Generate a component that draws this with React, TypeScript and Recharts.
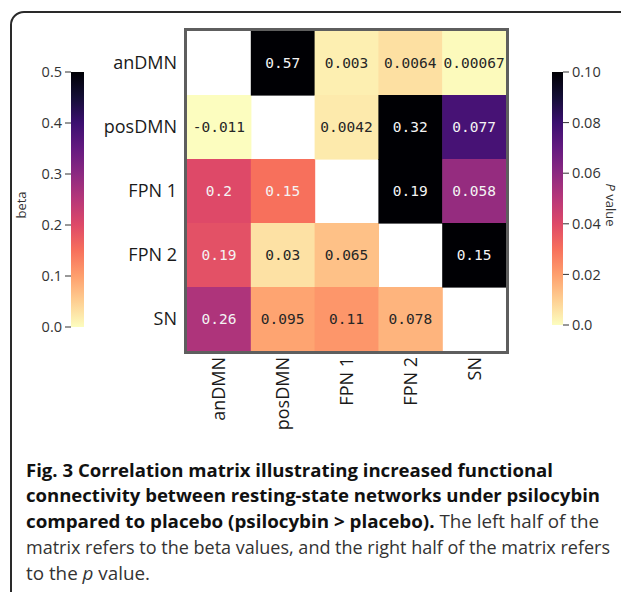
import { Bar, BarChart, Scatter, ScatterChart, XAxis, YAxis } from "recharts";

// Network names, used for both axes of the matrix.
const NETWORKS = ["anDMN", "posDMN", "FPN 1", "FPN 2", "SN"];
// Lower triangle: beta values, row r holds columns 0..r-1.
const BETA_ROWS: number[][] = [
  [],
  [-0.011],
  [0.2, 0.15],
  [0.19, 0.03, 0.065],
  [0.26, 0.095, 0.11, 0.078],
];
// Upper triangle: p values, row r holds columns r+1..4.
const P_ROWS: number[][] = [
  [0.57, 0.003, 0.0064, 0.00067],
  [0.0042, 0.32, 0.077],
  [0.19, 0.058],
  [0.15],
  [],
];
const BETA_TICKS = [0, 0.1, 0.2, 0.3, 0.4, 0.5];
const P_TICKS = [0, 0.02, 0.04, 0.06, 0.08, 0.1];
const INDEX_TICKS = [0, 1, 2, 3, 4];

const BETA_MAX = BETA_TICKS[BETA_TICKS.length - 1];
const P_MAX = P_TICKS[P_TICKS.length - 1];

// matplotlib magma, sampled every 0.1
const MAGMA = [
  "#000004", "#140e36", "#3b0f70", "#641a80", "#8c2981", "#b73779",
  "#de4968", "#f7705c", "#fe9f6d", "#fecf92", "#fcfdbf",
];

const FONT = "'Open Sans', 'DejaVu Sans', sans-serif";
const PLOT = { left: 187, top: 31, right: 506, bottom: 351 };
const CELL_W = (PLOT.right - PLOT.left) / NETWORKS.length;
const CELL_H = (PLOT.bottom - PLOT.top) / NETWORKS.length;

type CellDatum = { x: number; y: number; value: number; kind: "beta" | "p" };

const CELLS: CellDatum[] = [];
BETA_ROWS.forEach((row, r) => row.forEach((v, c) => CELLS.push({ x: c, y: r, value: v, kind: "beta" })));
P_ROWS.forEach((row, r) => row.forEach((v, i) => CELLS.push({ x: r + 1 + i, y: r, value: v, kind: "p" })));

function hexToRgb(hex: string) {
  const n = parseInt(hex.slice(1), 16);
  return [(n >> 16) & 255, (n >> 8) & 255, n & 255];
}

// reversed magma (magma_r), t in 0..1
function magmaR(t: number): string {
  const s = 1 - Math.min(1, Math.max(0, t));
  const pos = s * (MAGMA.length - 1);
  const i = Math.min(MAGMA.length - 2, Math.floor(pos));
  const f = pos - i;
  const a = hexToRgb(MAGMA[i]);
  const b = hexToRgb(MAGMA[i + 1]);
  const c = a.map((v, k) => Math.round(v + (b[k] - v) * f));
  return `rgb(${c[0]},${c[1]},${c[2]})`;
}

function textColorFor(rgb: string): string {
  const [r, g, b] = rgb.match(/\d+/g)!.map((v) => {
    const c = Number(v) / 255;
    return c <= 0.03928 ? c / 12.92 : Math.pow((c + 0.055) / 1.055, 2.4);
  });
  const lum = 0.2126 * r + 0.7152 * g + 0.0722 * b;
  return lum > 0.408 ? "#262626" : "#f4f4f4";
}

function HeatCell(props: any) {
  const { cx, cy } = props;
  const d: CellDatum = props.payload ?? props;
  const fill = magmaR(d.kind === "beta" ? d.value / BETA_MAX : d.value / P_MAX);
  return (
    <g>
      <rect x={cx - CELL_W / 2} y={cy - CELL_H / 2} width={CELL_W + 0.6} height={CELL_H + 0.6} fill={fill} />
      <text
        x={cx}
        y={cy}
        dy="0.36em"
        textAnchor="middle"
        fontFamily="'DejaVu Sans Mono', monospace"
        fontSize={14.5}
        fill={textColorFor(fill)}
      >
        {String(d.value)}
      </text>
    </g>
  );
}

function RowTick({ x, y, payload }: any) {
  return (
    <text x={x} y={y} dy="0.35em" textAnchor="end" fontFamily={FONT} fontSize={18} fill="#1a1a1a">
      {NETWORKS[payload.value]}
    </text>
  );
}

function ColTick({ x, y, payload }: any) {
  return (
    <text
      x={x}
      y={y}
      dy="0.36em"
      transform={`rotate(-90, ${x}, ${y})`}
      textAnchor="end"
      fontFamily={FONT}
      fontSize={18}
      fill="#1a1a1a"
    >
      {NETWORKS[payload.value]}
    </text>
  );
}

function Colorbar({ id, max, ticks, side, format }: { id: string; max: number; ticks: number[]; side: "left" | "right"; format: (v: number) => string }) {
  const data = [{ name: id, v: max }];
  return (
    <BarChart
      width={side === "left" ? 100 : 81}
      height={400}
      data={data}
      barCategoryGap={0}
      margin={side === "left" ? { top: 72, right: 16, bottom: 73, left: 0 } : { top: 72, right: 0, bottom: 75, left: 12 }}
    >
      <defs>
        <linearGradient id={id} x1="0" y1="0" x2="0" y2="1">
          {MAGMA.map((c, i) => (
            <stop key={i} offset={i / (MAGMA.length - 1)} stopColor={c} />
          ))}
        </linearGradient>
      </defs>
      <XAxis dataKey="name" hide />
      <YAxis
        orientation={side}
        width={side === "left" ? 71 : 58}
        type="number"
        domain={[0, max]}
        ticks={ticks}
        tickFormatter={format}
        axisLine={false}
        tickSize={6}
        tickMargin={3}
        tickLine={{ stroke: "#333" }}
        tick={{ fontFamily: FONT, fontSize: 14.5, fill: "#333" }}
        interval={0}
      />
      <Bar dataKey="v" fill={`url(#${id})`} isAnimationActive={false} />
    </BarChart>
  );
}

export default function App() {
  return (
    <div style={{ position: "absolute", left: 0, top: 0, width: 621, height: 592, overflow: "hidden", background: "#fff" }}>
      <div
        style={{
          position: "absolute",
          left: 10,
          top: 11,
          width: 700,
          height: 700,
          border: "2px solid #2a2a2a",
          borderRadius: 14,
        }}
      />
      <div style={{ position: "absolute", left: 0, top: 0 }}>
        <Colorbar id="betaGrad" max={BETA_MAX} ticks={BETA_TICKS} side="left" format={(v) => v.toFixed(1)} />
      </div>
      <div style={{ position: "absolute", left: 540, top: 0 }}>
        <Colorbar id="pGrad" max={P_MAX} ticks={P_TICKS} side="right" format={(v) => (v === 0 ? "0.0" : v.toFixed(2))} />
      </div>
      <div style={{ position: "absolute", left: 0, top: 0 }}>
        <ScatterChart width={621} height={440} margin={{ top: PLOT.top, right: 621 - PLOT.right, bottom: 9, left: PLOT.left - 60 }}>
          <XAxis
            type="number"
            dataKey="x"
            domain={[-0.5, 4.5]}
            ticks={INDEX_TICKS}
            interval={0}
            height={80}
            axisLine={false}
            tickLine={false}
            tickSize={0}
            tickMargin={6}
            tick={<ColTick />}
          />
          <YAxis
            type="number"
            dataKey="y"
            domain={[-0.5, 4.5]}
            reversed
            ticks={INDEX_TICKS}
            interval={0}
            width={60}
            axisLine={false}
            tickLine={false}
            tickSize={0}
            tickMargin={10}
            tick={<RowTick />}
          />
          <Scatter data={CELLS} shape={(p: any) => <HeatCell {...p} />} isAnimationActive={false} />
        </ScatterChart>
      </div>
      <div
        style={{
          position: "absolute",
          left: PLOT.left - 3,
          top: PLOT.top - 3,
          width: PLOT.right - PLOT.left,
          height: PLOT.bottom - PLOT.top,
          border: "3px solid #5e5e5e",
          pointerEvents: "none",
        }}
      />
      <svg width={621} height={592} style={{ position: "absolute", left: 0, top: 0, pointerEvents: "none" }}>
        <text x={26} y={205} transform="rotate(-90, 26, 205)" textAnchor="middle" fontFamily={FONT} fontSize={13} fill="#333">
          beta
        </text>
        <text x={606} y={205} transform="rotate(90, 606, 205)" textAnchor="middle" fontFamily={FONT} fontSize={13} fill="#333">
          <tspan fontStyle="italic">P</tspan> value
        </text>
        <g fontFamily={FONT} fontSize={18.5}>
          <text x={26} y={477} fontWeight={700} fill="#111" textLength={527} lengthAdjust="spacingAndGlyphs">
            Fig. 3 Correlation matrix illustrating increased functional
          </text>
          <text x={26} y={502} fontWeight={700} fill="#111" textLength={574} lengthAdjust="spacingAndGlyphs">
            connectivity between resting-state networks under psilocybin
          </text>
          <text x={26} y={528} fill="#333" textLength={573} lengthAdjust="spacingAndGlyphs">
            <tspan fontWeight={700} fill="#111">compared to placebo (psilocybin {">"} placebo).</tspan> The left half of the
          </text>
          <text x={26} y={554} fill="#333" textLength={584} lengthAdjust="spacingAndGlyphs">
            matrix refers to the beta values, and the right half of the matrix refers
          </text>
          <text x={26} y={580} fill="#333" textLength={124} lengthAdjust="spacingAndGlyphs">
            to the <tspan fontStyle="italic">p</tspan> value.
          </text>
        </g>
      </svg>
    </div>
  );
}
